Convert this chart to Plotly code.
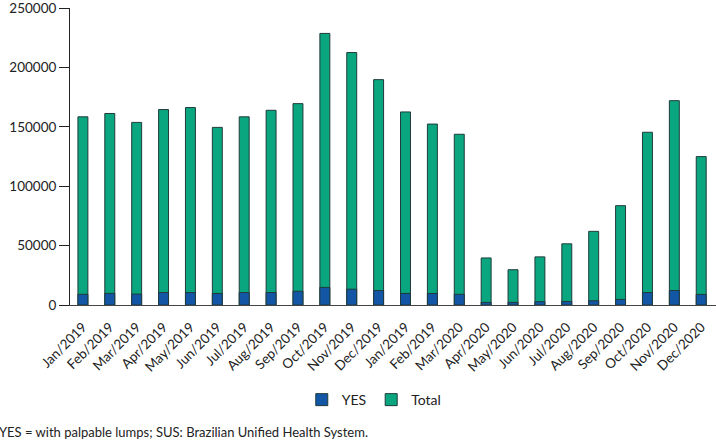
import plotly.graph_objects as go

months = ["Jan/2019", "Feb/2019", "Mar/2019", "Apr/2019", "May/2019", "Jun/2019",
          "Jul/2019", "Aug/2019", "Sep/2019", "Oct/2019", "Nov/2019", "Dec/2019",
          "Jan/2019", "Feb/2019", "Mar/2020", "Apr/2020", "May/2020", "Jun/2020",
          "Jul/2020", "Aug/2020", "Sep/2020", "Oct/2020", "Nov/2020", "Dec/2020"]

total = [158400, 161200, 153700, 164500, 166200, 149500,
         158400, 163900, 169500, 228600, 212500, 189700,
         162500, 152300, 143700, 39600, 29700, 40500,
         51500, 62000, 83600, 145400, 172000, 124900]

yes = [9000, 9800, 9200, 10500, 10500, 9700,
       10500, 10500, 11600, 14800, 13300, 12200,
       9700, 9700, 9000, 2200, 2200, 2800,
       3000, 3600, 4700, 10500, 12200, 8900]

yticks = [0, 50000, 100000, 150000, 200000, 250000]

positions = list(range(len(months)))

FONT = "Lato"

fig = go.Figure()
fig.add_trace(go.Bar(x=positions, y=total, name="Total", width=0.37,
                     marker=dict(color="#0aa67f", line=dict(color="#1f3b3b", width=1))))
fig.add_trace(go.Bar(x=positions, y=yes, name="YES", width=0.37,
                     marker=dict(color="#1456a6", line=dict(color="#1f3b3b", width=1))))

fig.update_layout(
    width=716, height=441,
    barmode="overlay",
    plot_bgcolor="white", paper_bgcolor="white",
    margin=dict(l=70, r=0, t=8, b=136, autoexpand=False),
    font=dict(family=FONT, size=13, color="#222222"),
    showlegend=True,
    legend=dict(orientation="h", traceorder="reversed", x=0.471, xanchor="center",
                y=-0.32, yanchor="middle", font=dict(size=14), itemwidth=30),
    xaxis=dict(tickmode="array", tickvals=positions, ticktext=months, tickangle=-45,
               range=[-0.48, 23.55], showline=True, linecolor="#444444", linewidth=1,
               showgrid=False, zeroline=False, ticks="", tickfont=dict(size=13.5),
               ticklabelstandoff=8, automargin=False, ticklabeloverflow="allow"),
    yaxis=dict(range=[0, 250000], tickvals=yticks,
               ticktext=[str(v) for v in yticks],
               showline=True, linecolor="#222222", linewidth=1, ticks="outside",
               ticklen=10, tickcolor="#222222", showgrid=False, zeroline=False,
               tickfont=dict(size=13.5), automargin=False, ticklabeloverflow="allow"),
    annotations=[dict(text="YES = with palpable lumps; SUS: Brazilian Unified Health System.",
                      xref="paper", yref="paper", x=-0.113, y=-0.426,
                      xanchor="left", yanchor="middle", showarrow=False,
                      font=dict(size=13))],
)

fig.write_html("out.html", config={"displayModeBar": False},
               post_script="document.body.style.margin='0px';document.body.style.overflow='hidden';")
